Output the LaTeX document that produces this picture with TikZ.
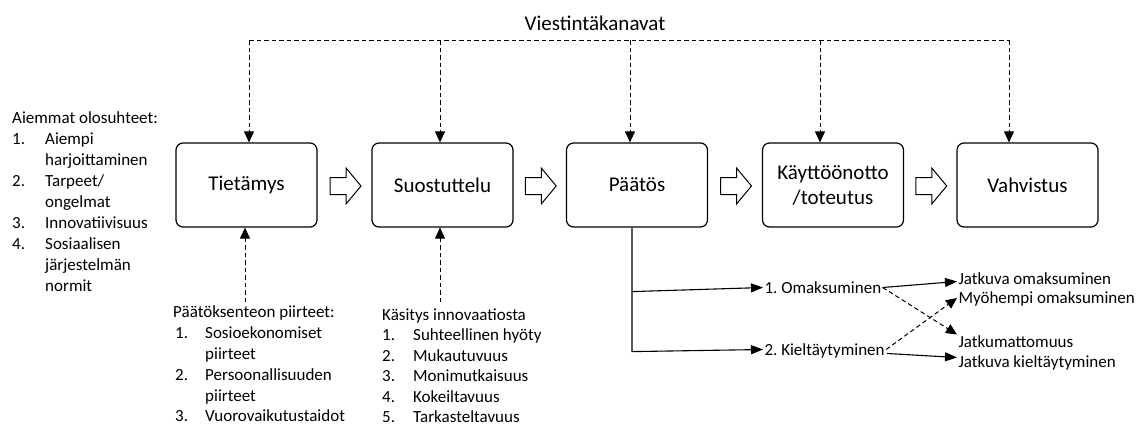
\documentclass[tikz,border=0pt]{standalone}
\usepackage{fontspec}
\setmainfont{Carlito}
\usetikzlibrary{arrows.meta,calc}
\frenchspacing
\begin{document}
\begin{tikzpicture}[x=1pt,y=-1pt,
  stage/.style={draw, rounded corners=7pt, line width=1.2pt, minimum width=141pt,
    minimum height=84pt, align=center, font=\fontsize{21}{25}\selectfont, inner sep=2pt},
  lt/.style={anchor=base west, inner sep=0pt, font=\fontsize{17}{21}\selectfont},
  rt/.style={lt, text height=11pt, text depth=0pt, outer sep=1.5pt},
  dashln/.style={line width=1pt, dash pattern=on 4.5pt off 3pt},
  dashar/.style={dashln, -{Triangle[length=11pt,width=10pt]}},
  solar/.style={line width=1.1pt, -{Triangle[length=12pt,width=9pt]}},
  blockarr/.style={draw, line width=1pt, fill=white, line join=miter}
]
\useasboundingbox (0,0) rectangle (1138,426);

% stages of the process
\node[stage] (b1) at (246.5,185) {Tietämys};
\node[stage] (b2) at (442.5,185) {Suostuttelu};
\node[stage] (b3) at (637,185) {Päätös};
\node[stage] (b4) at (833,185) {Käyttöönotto\\/toteutus};
\node[stage] (b5) at (1027.5,185) {Vahvistus};

% hollow block arrows between the stages
\foreach \a/\b [count=\i] in {b1/b2,b2/b3,b3/b4,b4/b5}{
  \coordinate (m\i) at ($(\a.east)!0.5!(\b.west)+(1,1)$);
  \draw[blockarr] ($(m\i)+(-15.5,-8.5)$) -- ++(16,0) -- ++(0,-9.5) -- ++(15,18)
    -- ++(-15,18) -- ++(0,-9.5) -- ++(-16,0) -- cycle;
}

% communication channels
\node[anchor=base, inner sep=0pt, font=\fontsize{21}{25}\selectfont] (vk) at (595,30) {Viestintäkanavat};
\coordinate (t1) at (249,40);
\coordinate (t2) at (440,40);
\coordinate (t3) at (630,40);
\coordinate (t4) at (820,40);
\coordinate (t5) at (1009,40);
\draw[dashln] (t1) -- (t5);
\foreach \i in {1,...,5}{
  \draw[dashar] (t\i) -- (t\i |- b\i.north);
}

% prior conditions
\node[lt] (a0) at (12,123.5) {Aiemmat olosuhteet:};
\node[lt] (a1n) at (12,144.5) {1.};
\node[lt] (a1) at (45,144.5) {Aiempi};
\node[lt] (a1b) at (45,165.5) {harjoittaminen};
\node[lt] (a2n) at (12,186.5) {2.};
\node[lt] (a2) at (45,186.5) {Tarpeet/};
\node[lt] (a2b) at (45,207.5) {ongelmat};
\node[lt] (a3n) at (12,228.5) {3.};
\node[lt] (a3) at (45,228.5) {Innovatiivisuus};
\node[lt] (a4n) at (12,249.5) {4.};
\node[lt] (a4) at (45,249.5) {Sosiaalisen};
\node[lt] (a4b) at (45,270.5) {järjestelmän};
\node[lt] (a4c) at (45,291.5) {normit};

% characteristics of the decision-making unit
\node[lt] (p0) at (173,317) {Päätöksenteon piirteet:};
\node[lt] (p1n) at (175,338) {1.};
\node[lt] (p1) at (205,338) {Sosioekonomiset};
\node[lt] (p1b) at (205,359) {piirteet};
\node[lt] (p2n) at (175,380) {2.};
\node[lt] (p2) at (205,380) {Persoonallisuuden};
\node[lt] (p2b) at (205,401) {piirteet};
\node[lt] (p3n) at (175,421.5) {3.};
\node[lt] (p3) at (205,421.5) {Vuorovaikutustaidot};

% perceived characteristics of the innovation
\node[lt] (k0) at (382,320) {Käsitys innovaatiosta};
\node[lt] (k1n) at (382,340.5) {1.};
\node[lt] (k1) at (413,340.5) {Suhteellinen hyöty};
\node[lt] (k2n) at (382,361) {2.};
\node[lt] (k2) at (413,361) {Mukautuvuus};
\node[lt] (k3n) at (382,381.5) {3.};
\node[lt] (k3) at (413,381.5) {Monimutkaisuus};
\node[lt] (k4n) at (382,402) {4.};
\node[lt] (k4) at (413,402) {Kokeiltavuus};
\node[lt] (k5n) at (382,422.5) {5.};
\node[lt] (k5) at (413,422.5) {Tarkasteltavuus};

\coordinate (u1) at (245,302);
\coordinate (u2) at (440,302);
\draw[dashar] (u1) -- (u1 |- b1.south);
\draw[dashar] (u2) -- (u2 |- b2.south);

% outcomes of the decision
\node[rt] (o1) at (763,293) {1. Omaksuminen};
\node[rt] (o2) at (763,355) {2. Kieltäytyminen};
\node[rt] (j1) at (957,284) {Jatkuva omaksuminen};
\node[rt] (j2) at (957,303.5) {Myöhempi omaksuminen};
\node[rt] (j3) at (957,347) {Jatkumattomuus};
\node[rt] (j4) at (957,367) {Jatkuva kieltäytyminen};

\coordinate (d0) at ($(b3.south)+(-5,0)$);
\draw[solar] (d0) -- ($(d0)+(0,124)$) -- (o2.west);
\draw[solar] ($(d0)+(0,64)$) -- (o1.west);

\draw[solar] (o1.east) -- ($(j1.west)+(0,3)$);
\draw[dashar] (o1.east) -- (j3.north west);
\draw[dashar] (o2.east) -- (j2.west);
\draw[solar] ($(o2.east)+(1,4)$) -- ($(j4.west)+(0,-4)$);
\end{tikzpicture}
\end{document}
